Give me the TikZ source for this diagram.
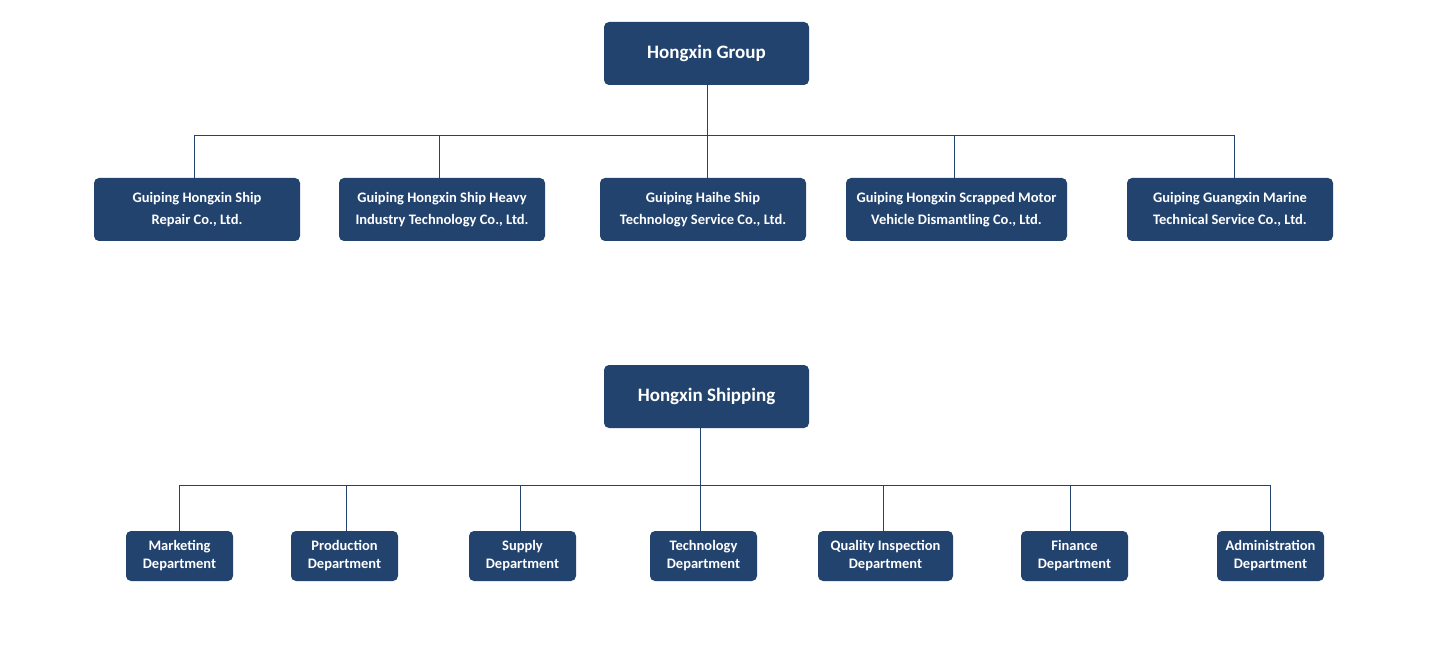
\documentclass[tikz,border=0pt]{standalone}
\usepackage{fontspec}
\setmainfont{Carlito}
\definecolor{navy}{HTML}{23436F}
\begin{document}
\begin{tikzpicture}[x=1pt,y=-1pt,
  box/.style={fill=navy,rounded corners=5pt,text=white,font=\bfseries\fontsize{14.5}{22}\selectfont,align=center,inner sep=0pt},
  big/.style={box,minimum width=205pt,minimum height=63pt,font=\bfseries\fontsize{19}{22}\selectfont},
  sub/.style={box,minimum width=206pt,minimum height=63pt},
  dept/.style={box,minimum width=107pt,minimum height=50pt,font=\bfseries\fontsize{14.5}{18}\selectfont},
  ln/.style={draw=navy,line width=0.8pt}]
\useasboundingbox (0,0) rectangle (1440,660);
\node[big] (g) at (706.5,53.5) {Hongxin Group};
\node[sub] (s1) at (197,209.5) {Guiping Hongxin Ship\\Repair Co., Ltd.};
\node[sub] (s2) at (442,209.5) {Guiping Hongxin Ship Heavy\\Industry Technology Co., Ltd.};
\node[sub] (s3) at (703,209.5) {Guiping Haihe Ship\\Technology Service Co., Ltd.};
\node[sub,minimum width=221pt] (s4) at (956.5,209.5) {Guiping Hongxin Scrapped Motor\\Vehicle Dismantling Co., Ltd.};
\node[sub] (s5) at (1230,209.5) {Guiping Guangxin Marine\\Technical Service Co., Ltd.};
\coordinate (gb) at (707,135);
\draw[ln] (707,85) -- (gb);
\draw[ln] (194,135) -- (1234,135);
\foreach \n/\x in {s1/194,s2/439,s3/707,s4/954,s5/1234}
  \draw[ln] (\x,135) -- (\x pt, 0 |- \n.north);
\node[big] (h) at (706.5,396.5) {Hongxin Shipping};
\draw[ln] (700,428) -- (700,485);
\draw[ln] (179,485) -- (1270,485);
\node[dept] (d1) at (179.5,556) {Marketing\\Department};
\node[dept] (d2) at (344.5,556) {Production\\Department};
\node[dept] (d3) at (522.5,556) {Supply\\Department};
\node[dept] (d4) at (703.5,556) {Technology\\Department};
\node[dept,minimum width=135pt] (d5) at (885.5,556) {Quality Inspection\\Department};
\node[dept] (d6) at (1074.5,556) {Finance\\Department};
\node[dept] (d7) at (1270.5,556) {Administration\\Department};
\foreach \n/\x in {d1/179,d2/346,d3/520,d4/700,d5/883,d6/1070,d7/1270}
  \draw[ln] (\x,485) -- (\x pt, 0 |- \n.north);
\end{tikzpicture}
\end{document}
